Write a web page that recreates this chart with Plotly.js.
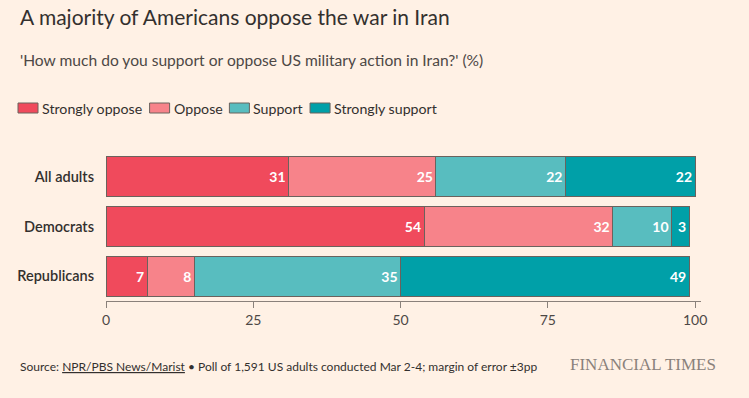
<!DOCTYPE html>
<html><head><meta charset="utf-8">
<script src="https://cdn.plot.ly/plotly-3.0.1.min.js"></script>
<style>html,body{margin:0;padding:0;background:#fff1e5;}</style>
</head><body>
<div id="chart" style="width:749px;height:398px;"></div>
<script>
var groups = ["All adults", "Democrats", "Republicans"];
var seriesNames = ["Strongly oppose", "Oppose", "Support", "Strongly support"];
var stronglyOppose = [31, 54, 7];
var oppose = [25, 32, 8];
var support = [22, 10, 35];
var stronglySupport = [22, 3, 49];
var xTicks = [0, 25, 50, 75, 100];

var colors = ["#f04a5c", "#f7838a", "#58bdbf", "#00a0a8"];
var allValues = [stronglyOppose, oppose, support, stronglySupport];
var FONT = "Lato, 'Open Sans', sans-serif";
var OUTLINE = "#6b625d";

var traces = allValues.map(function (vals, i) {
  return {
    type: "bar", orientation: "h",
    name: seriesNames[i], y: groups, x: vals,
    marker: {color: colors[i], line: {color: OUTLINE, width: 1}},
    text: vals.map(String), textposition: "inside", insidetextanchor: "end",
    textfont: {family: FONT, size: 14, color: "#ffffff", weight: 700},
    constraintext: "none", cliponaxis: false, hoverinfo: "skip", showlegend: false
  };
});

function py(pix) { return (301 - pix) / 149; }
function px(pix) { return (pix - 106) / 595; }

var annotations = [
  {xref: "paper", yref: "paper", x: px(18), y: py(16), xanchor: "left", yanchor: "middle",
   showarrow: false, text: "A majority of Americans oppose the war in Iran",
   font: {family: FONT, size: 21, color: "#33302e"}},
  {xref: "paper", yref: "paper", x: px(18), y: py(60), xanchor: "left", yanchor: "middle",
   showarrow: false, text: "'How much do you support or oppose US military action in Iran?' (%)",
   font: {family: FONT, size: 15.6, color: "#4d4845"}},
  {xref: "paper", yref: "paper", x: px(18), y: py(366), xanchor: "left", yanchor: "middle",
   showarrow: false,
   text: "Source: <span style=\"text-decoration:underline\">NPR/PBS News/Marist</span> \u2022 Poll of 1,591 US adults conducted Mar 2-4; margin of error \u00b13pp",
   font: {family: FONT, size: 12, color: "#33302e"}},
  {xref: "paper", yref: "paper", x: px(718), y: py(364), xanchor: "right", yanchor: "middle",
   showarrow: false, text: "FINANCIAL TIMES",
   font: {family: "'Liberation Serif', serif", size: 17, color: "#8a817b"}}
];
var shapes = [];

// custom legend (swatch + label), laid out from measured label widths
var LEG_SIZE = 14.2;
var ctx = document.createElement("canvas").getContext("2d");
ctx.font = LEG_SIZE + "px Lato";
var lx = 18, ly = 108;
seriesNames.forEach(function (name, i) {
  shapes.push({type: "rect", xref: "paper", yref: "paper",
    x0: px(lx), x1: px(lx + 20), y0: py(ly + 5), y1: py(ly - 5),
    fillcolor: colors[i], line: {color: OUTLINE, width: 1}});
  annotations.push({xref: "paper", yref: "paper", x: px(lx + 23), y: py(ly), xanchor: "left",
    yanchor: "middle", showarrow: false, text: name, xshift: -1,
    font: {family: FONT, size: LEG_SIZE, color: "#33302e"}});
  lx = lx + 23 + ctx.measureText(name).width + 8;
});

var layout = {
  width: 749, height: 398,
  paper_bgcolor: "#fff1e5", plot_bgcolor: "#fff1e5",
  margin: {l: 106, r: 48, t: 152, b: 97},
  barmode: "stack", bargap: 0.19,
  font: {family: FONT, color: "#33302e"},
  showlegend: false,
  xaxis: {range: [0, 101], tickvals: xTicks, ticktext: xTicks.map(String),
    showgrid: false, zeroline: false, showline: true, linecolor: "#8a817b", linewidth: 1,
    ticks: "outside", ticklen: 6, tickcolor: "#8a817b",
    tickfont: {family: FONT, size: 14, color: "#4d4845"}, fixedrange: true},
  yaxis: {type: "category", autorange: "reversed", showgrid: false, zeroline: false,
    showline: false, ticks: "", ticklabelstandoff: 11,
    tickfont: {family: FONT, size: 14.5, color: "#33302e", weight: 600}, fixedrange: true},
  shapes: shapes,
  annotations: annotations
};

Plotly.newPlot("chart", traces, layout, {staticPlot: true, displayModeBar: false});
</script>
</body></html>
